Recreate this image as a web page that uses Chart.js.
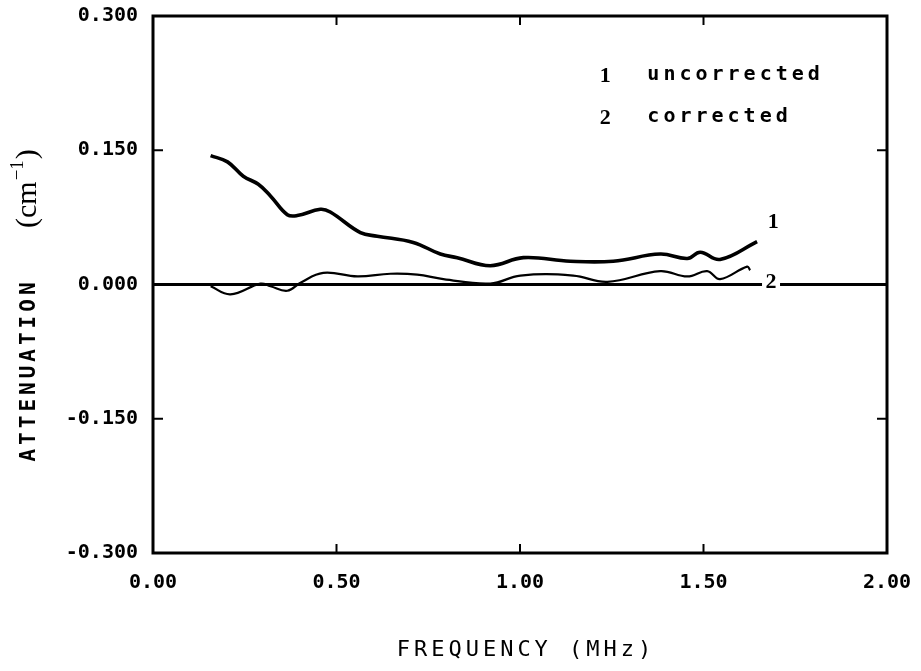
<!DOCTYPE html>
<html>
<head>
<meta charset="utf-8">
<script src="https://cdn.jsdelivr.net/npm/chart.js@4.4.0/dist/chart.umd.min.js"></script>
<style>
html, body { margin: 0; padding: 0; background: #fff; }
#wrap { width: 921px; height: 671px; }
</style>
</head>
<body>
<div id="wrap"><canvas id="attenuationChart"></canvas></div>
<script>
// values (frequency in MHz, attenuation in cm^-1)
var freqUncorrected = [0.157, 0.203, 0.246, 0.287, 0.320, 0.366, 0.393, 0.456, 0.483, 0.565, 0.611, 0.709, 0.783, 0.829, 0.919, 1.009, 1.137, 1.254, 1.382, 1.456, 1.491, 1.545, 1.646];
var attUncorrected  = [0.144, 0.137, 0.121, 0.112, 0.099, 0.078, 0.077, 0.084, 0.081, 0.058, 0.054, 0.047, 0.034, 0.030, 0.021, 0.030, 0.026, 0.026, 0.034, 0.029, 0.036, 0.028, 0.048];
var freqCorrected = [0.157, 0.211, 0.293, 0.320, 0.366, 0.402, 0.464, 0.557, 0.647, 0.720, 0.791, 0.919, 1.001, 1.145, 1.238, 1.382, 1.456, 1.510, 1.545, 1.619, 1.627];
var attCorrected  = [-0.002, -0.011, 0.001, -0.002, -0.007, 0.002, 0.013, 0.009, 0.012, 0.011, 0.006, 0.001, 0.010, 0.010, 0.003, 0.015, 0.009, 0.015, 0.006, 0.020, 0.016];
var zeroFreq = [0, 2];
var zeroAtt = [0, 0];
var xTicks = [0, 0.5, 1.0, 1.5, 2.0];
var yTicks = [-0.300, -0.150, 0.000, 0.150, 0.300];
var curveNumbers = ['1', '2'];
var curveNames = ['uncorrected', 'corrected'];

function toPoints(xs, ys) {
    let pts = [];
    for (let i = 0; i < xs.length; i++) {
        pts.push({x: xs[i], y: ys[i]});
    }
    return pts;
}

const plotDecor = {
    id: 'plotDecor',
    afterDatasetsDraw(chart) {
        const ctx = chart.ctx;
        const a = chart.chartArea;
        const x = chart.scales.x;
        const y = chart.scales.y;
        function seg(x1, y1, x2, y2) {
            ctx.beginPath();
            ctx.moveTo(x1, y1);
            ctx.lineTo(x2, y2);
            ctx.stroke();
        }
        ctx.save();
        ctx.strokeStyle = '#000';
        ctx.fillStyle = '#000';
        // frame
        ctx.lineWidth = 3;
        ctx.strokeRect(a.left, a.top, a.right - a.left, a.bottom - a.top);
        // inward ticks
        ctx.lineWidth = 2;
        xTicks.slice(1, -1).forEach(v => {
            let px = x.getPixelForValue(v);
            seg(px, a.top, px, a.top + 9);
            seg(px, a.bottom, px, a.bottom - 9);
        });
        yTicks.slice(1, -1).forEach(v => {
            let py = y.getPixelForValue(v);
            seg(a.left, py, a.left + 10, py);
            seg(a.right, py, a.right - 10, py);
        });

        // curve numbers at line ends
        ctx.font = 'bold 22px "Liberation Serif"';
        ctx.textAlign = 'center';
        ctx.textBaseline = 'middle';
        let p1x = x.getPixelForValue(1.690), p1y = y.getPixelForValue(0.069);
        ctx.fillText(curveNumbers[0], p1x, p1y);
        let p2x = x.getPixelForValue(1.684), p2y = y.getPixelForValue(0.002);
        ctx.fillStyle = '#fff';
        ctx.fillRect(p2x - 9, p2y - 9, 18, 18);
        ctx.fillStyle = '#000';
        ctx.fillText(curveNumbers[1], p2x, p2y);

        // key in upper right
        let keyY = [0.233, 0.186];
        for (let i = 0; i < curveNumbers.length; i++) {
            let ky = y.getPixelForValue(keyY[i]);
            ctx.font = 'bold 22px "Liberation Serif"';
            ctx.textAlign = 'center';
            ctx.fillText(curveNumbers[i], x.getPixelForValue(1.232), ky);
            ctx.font = 'bold 20px "DejaVu Sans Mono"';
            ctx.textAlign = 'left';
            ctx.letterSpacing = '4px';
            ctx.fillText(curveNames[i], x.getPixelForValue(1.347), ky - 1);
            ctx.letterSpacing = '0px';
        }
        ctx.restore();
    },
    afterDraw(chart) {
        const ctx = chart.ctx;
        ctx.save();
        ctx.fillStyle = '#000';
        ctx.textBaseline = 'middle';
        ctx.textAlign = 'center';
        // x title
        ctx.font = '22px "DejaVu Sans Mono"';
        ctx.letterSpacing = '4px';
        ctx.fillText('FREQUENCY (MHz)', 526, 650);
        // y title, rotated
        ctx.translate(30, 370);
        ctx.rotate(-Math.PI / 2);
        ctx.font = 'bold 21px "DejaVu Sans Mono"';
        ctx.letterSpacing = '4px';
        ctx.fillText('ATTENUATION', 0, 0);
        ctx.letterSpacing = '0px';
        ctx.textAlign = 'left';
        ctx.font = '30px "Liberation Serif"';
        let ux = 142;
        ctx.fillText('(cm', ux, -2);
        ux += ctx.measureText('(cm').width;
        ctx.font = '19px "Liberation Serif"';
        ctx.fillText('\u22121', ux + 1, -12);
        ux += ctx.measureText('\u22121').width + 2;
        ctx.font = '30px "Liberation Serif"';
        ctx.fillText(')', ux, -2);
        ctx.restore();
    }
};

const tickFont = {family: '"DejaVu Sans Mono"', size: 20, weight: 'bold'};

new Chart(document.getElementById('attenuationChart'), {
    type: 'line',
    data: {
        datasets: [
            {
                data: toPoints(zeroFreq, zeroAtt),
                borderColor: '#000',
                borderWidth: 3,
                pointRadius: 0,
                tension: 0
            },
            {
                data: toPoints(freqUncorrected, attUncorrected),
                borderColor: '#000',
                borderWidth: 3.6,
                pointRadius: 0,
                tension: 0.4
            },
            {
                data: toPoints(freqCorrected, attCorrected),
                borderColor: '#000',
                borderWidth: 2.2,
                pointRadius: 0,
                tension: 0.4
            }
        ]
    },
    options: {
        responsive: true,
        maintainAspectRatio: false,
        animation: false,
        layout: {padding: {top: 16, right: 34, left: 0, bottom: 0}},
        scales: {
            x: {
                type: 'linear',
                min: 0,
                max: 2,
                afterBuildTicks: s => { s.ticks = xTicks.map(v => ({value: v})); },
                afterFit: s => { s.height = 118; s.paddingLeft = 0; s.paddingRight = 0; },
                grid: {display: false, drawTicks: false},
                border: {display: false},
                ticks: {
                    color: '#000',
                    font: tickFont,
                    padding: 18,
                    maxRotation: 0,
                    callback: v => Number(v).toFixed(2)
                }
            },
            y: {
                type: 'linear',
                min: -0.3,
                max: 0.3,
                afterBuildTicks: s => { s.ticks = yTicks.map(v => ({value: v})); },
                afterFit: s => { s.width = 153; s.paddingTop = 0; s.paddingBottom = 0; },
                grid: {display: false, drawTicks: false},
                border: {display: false},
                ticks: {
                    color: '#000',
                    font: tickFont,
                    padding: 15,
                    callback: v => Number(v).toFixed(3)
                }
            }
        },
        plugins: {
            legend: {display: false},
            tooltip: {enabled: false}
        }
    },
    plugins: [plotDecor]
});
</script>
</body>
</html>
